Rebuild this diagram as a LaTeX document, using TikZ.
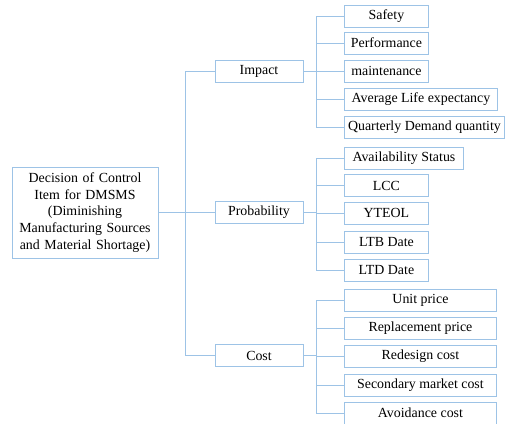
\documentclass[tikz,border=0pt]{standalone}
\usepackage{fontspec}
\setmainfont{Liberation Serif}
\usepackage{tikz}
\usetikzlibrary{positioning}

\definecolor{boxblue}{RGB}{157,195,230}

\tikzset{
  box/.style={draw=boxblue,line width=0.9pt,minimum height=22pt,inner sep=0pt,
    align=center,font=\fontsize{13.9}{16.7}\selectfont},
  leaf/.style={box,anchor=west,minimum width=#1},
  link/.style={draw=boxblue,line width=0.9pt}
}

\begin{document}
\begin{tikzpicture}[x=1pt,y=-1pt]
  \useasboundingbox (0,0) rectangle (511,423);
  % root and the three criteria
  \node[box,text width=140pt,minimum width=146pt,minimum height=91pt] (root) at (85,212.5)
    {Decision of Control\\Item for DMSMS\\(Diminishing\\Manufacturing Sources\\and Material Shortage)};
  \node[box,minimum width=88pt] (imp) at (259,71) {Impact};
  \node[box,minimum width=88pt] (prob) at (259,212.5) {Probability};
  \node[box,minimum width=88pt] (cost) at (259,355.5) {Cost};
  % impact items
  \node[leaf=84pt] (saf) at (344,16) {Safety};
  \node[leaf=84pt] (perf) at (344,43) {Performance};
  \node[leaf=84pt] (maint) at (344,71) {maintenance};
  \node[leaf=153pt] (ale) at (344,99) {Average Life expectancy};
  \node[leaf=160pt] (qdq) at (344,127) {Quarterly Demand quantity};
  % probability items
  \node[leaf=119pt] (avs) at (344,158) {Availability Status};
  \node[leaf=84pt] (lcc) at (344,185.5) {LCC};
  \node[leaf=84pt] (yteol) at (344,213) {YTEOL};
  \node[leaf=84pt] (ltb) at (344,242) {LTB Date};
  \node[leaf=84pt] (ltd) at (344,270.5) {LTD Date};
  % cost items
  \node[leaf=152pt] (up) at (344,300.5) {Unit price};
  \node[leaf=152pt] (rp) at (344,328.5) {Replacement price};
  \node[leaf=152pt] (rc) at (344,356) {Redesign cost};
  \node[leaf=152pt] (smc) at (344,385) {Secondary market cost};
  \node[leaf=152pt] (ac) at (344,413) {Avoidance cost};

  \draw[link] (root.east) -- ++(27,0) |- (imp.west);
  \draw[link] (root.east) -- ++(27,0) |- (prob.west);
  \draw[link] (root.east) -- ++(27,0) |- (cost.west);

  \draw[link] (imp.east) -- ++(13,0) |- (saf.west);
  \draw[link] (imp.east) -- ++(13,0) |- (perf.west);
  \draw[link] (imp.east) -- (maint.west);
  \draw[link] (imp.east) -- ++(13,0) |- (ale.west);
  \draw[link] (imp.east) -- ++(13,0) |- (qdq.west);

  \draw[link] (prob.east) -- ++(13,0) |- (avs.west);
  \draw[link] (prob.east) -- ++(13,0) |- (lcc.west);
  \draw[link] (prob.east) -- ++(13,0) |- (yteol.west);
  \draw[link] (prob.east) -- ++(13,0) |- (ltb.west);
  \draw[link] (prob.east) -- ++(13,0) |- (ltd.west);

  \draw[link] (cost.east) -- ++(13,0) |- (up.west);
  \draw[link] (cost.east) -- ++(13,0) |- (rp.west);
  \draw[link] (cost.east) -- ++(13,0) |- (rc.west);
  \draw[link] (cost.east) -- ++(13,0) |- (smc.west);
  \draw[link] (cost.east) -- ++(13,0) |- (ac.west);
\end{tikzpicture}
\end{document}
